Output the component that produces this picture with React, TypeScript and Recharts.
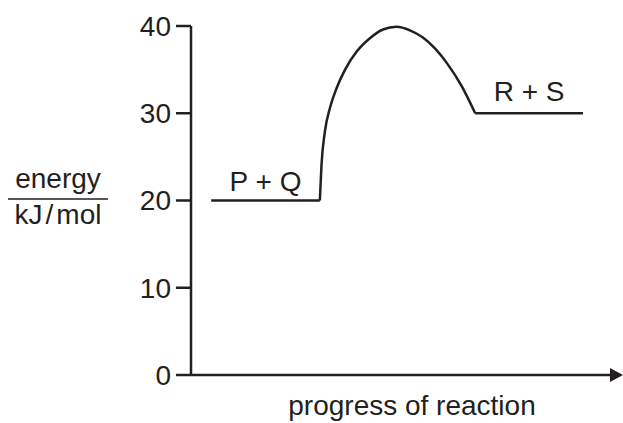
import { LineChart, Line, XAxis, YAxis, ReferenceDot, Customized } from 'recharts';

const energyTicks = [0, 10, 20, 30, 40];

// progress of reaction (arbitrary units, 0-100) against energy in kJ/mol
const reactantProgress = [4.8, 30.6];
const reactantEnergy = [20, 20];

const barrierProgress = [30.6, 31.0, 31.8, 33.0, 34.6, 36.6, 39.4, 42.5, 45.6, 48.8, 52.0, 55.0, 58.0, 61.0, 64.3, 67.5];
const barrierEnergy = [20, 24.1, 27.9, 30.6, 32.9, 35.0, 37.1, 38.6, 39.6, 39.9, 39.5, 38.7, 37.4, 35.6, 33.1, 30];

const productProgress = [67.5, 93.1];
const productEnergy = [30, 30];

const reactantLabel = 'P + Q';
const productLabel = 'R + S';

const ink = '#231f20';
const font = "'Liberation Sans', Arial, Helvetica, sans-serif";
const fs = 28;

const toPoints = (xs: number[], ys: number[]) => xs.map((x, i) => ({ x, e: ys[i] }));

const reactants = toPoints(reactantProgress, reactantEnergy);
const barrier = toPoints(barrierProgress, barrierEnergy);
const products = toPoints(productProgress, productEnergy);

const mid = (xs: number[]) => (xs[0] + xs[xs.length - 1]) / 2;

const Arrow = (p: any) => (
  <polygon
    points={`${p.cx - 2},${p.cy - 7} ${p.cx + 11},${p.cy} ${p.cx - 2},${p.cy + 7}`}
    fill={ink}
  />
);

const AxisTitles = () => (
  <g fontFamily={font} fill={ink} fontSize={fs}>
    <text x={58} y={188} textAnchor="middle">energy</text>
    <line x1={8} x2={108} y1={199} y2={199} stroke={ink} strokeWidth={1.5} />
    <text x={58} y={224} textAnchor="middle">
      <tspan>kJ</tspan>
      <tspan dx={3}>/</tspan>
      <tspan dx={3}>mol</tspan>
    </text>
    <text x={412} y={415} textAnchor="middle">progress of reaction</text>
  </g>
);

export default function App() {
  return (
    <div style={{ position: 'absolute', left: 0, top: 0, background: '#fff' }}>
      <LineChart width={623} height={423} margin={{ top: 26, right: 11, bottom: 18, left: 0 }}>
        <XAxis
          type="number"
          dataKey="x"
          domain={[0, 100]}
          height={30}
          tick={false}
          tickLine={false}
          axisLine={{ stroke: ink, strokeWidth: 2.5 }}
        />
        <YAxis
          type="number"
          dataKey="e"
          domain={[0, 40]}
          ticks={energyTicks}
          width={191}
          tickSize={15}
          tickMargin={5}
          tick={{ fill: ink, fontSize: fs, fontFamily: font }}
          tickLine={{ stroke: ink, strokeWidth: 2.5 }}
          axisLine={{ stroke: ink, strokeWidth: 2.5 }}
        />
        <Line data={reactants} dataKey="e" type="linear" stroke={ink} strokeWidth={2.5} dot={false} isAnimationActive={false} />
        <Line data={barrier} dataKey="e" type="monotone" stroke={ink} strokeWidth={2.5} dot={false} isAnimationActive={false} />
        <Line data={products} dataKey="e" type="linear" stroke={ink} strokeWidth={2.5} dot={false} isAnimationActive={false} />
        <ReferenceDot
          x={mid(reactantProgress)}
          y={reactantEnergy[0]}
          r={0}
          fill="none"
          stroke="none"
          label={{ value: reactantLabel, position: 'top', offset: 10, fill: ink, fontSize: fs, fontFamily: font }}
        />
        <ReferenceDot
          x={mid(productProgress)}
          y={productEnergy[0]}
          r={0}
          fill="none"
          stroke="none"
          label={{ value: productLabel, position: 'top', offset: 12, fill: ink, fontSize: fs, fontFamily: font }}
        />
        <ReferenceDot x={100} y={0} ifOverflow="visible" shape={Arrow} />
        <Customized component={AxisTitles} />
      </LineChart>
    </div>
  );
}
